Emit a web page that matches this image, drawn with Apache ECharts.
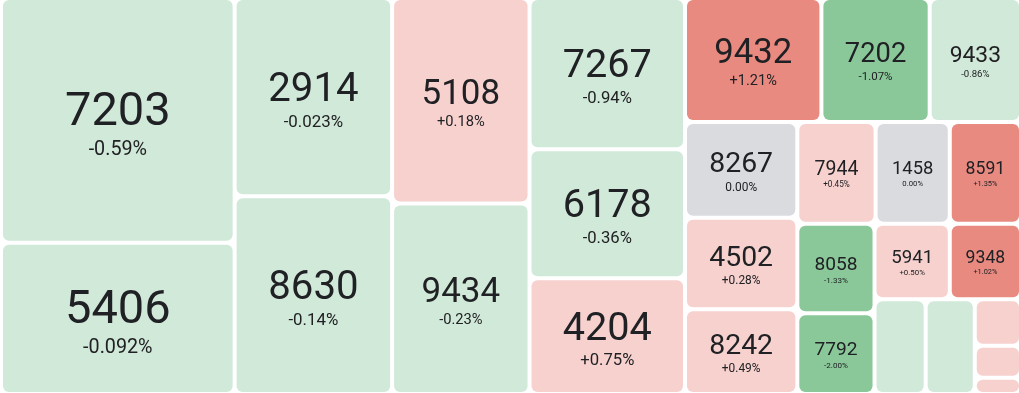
<!DOCTYPE html>
<html>
<head>
<meta charset="utf-8">
<script src="https://cdn.jsdelivr.net/npm/echarts@6/dist/echarts.min.js"></script>
<style>
html,body{margin:0;padding:0;background:#fff;}
#c{width:1019px;height:393px;}
</style>
</head>
<body>
<div id="c"></div>
<script>
// Tile names (stock codes); unnamed small tiles carry no label in the reference
const codes = ['7203','5406','2914','8630','5108','9434','7267','6178','4204','9432','7202','9433',
  '8267','4502','8242','7944','1458','8591','8058','7792','5941','9348','','','','',''];
// Tile weights (read from tile areas)
const weights = [56600,34950,30900,30800,27950,25900,23250,19850,17800,16730,13280,11200,
  10640,10190,9410,7880,7470,7170,6850,6160,5630,5330,4790,4600,2120,1470,740];
// Daily change in percent (small unnamed tiles: estimated from colour only)
const changes = [-0.59,-0.092,-0.023,-0.14,0.18,-0.23,-0.94,-0.36,0.75,1.21,-1.07,-0.86,
  0.00,0.28,0.49,0.45,0.00,1.35,-1.33,-2.00,0.50,1.02,-0.5,-0.5,0.5,0.5,0.5];

const GREEN1 = '#d1e9d8', GREEN2 = '#8ac899', RED1 = '#f6d1ce', RED2 = '#e98a81', GRAY = '#dadbdf';
const TEXT = '#202124';
const FONT = 'Roboto';

function colorFor(v) {
  if (v === 0) return GRAY;
  if (v > 0) return v >= 1 ? RED2 : RED1;
  return v <= -1 ? GREEN2 : GREEN1;
}
function fmtChange(v) {
  if (v === 0) return '0.00%';
  const s = Math.abs(v) < 0.1 ? v.toPrecision(2) : v.toFixed(2);
  return (v > 0 ? '+' : '') + s + '%';
}

function buildData(layouts) {
  return codes.map((c, i) => {
    const item = { name: c, value: weights[i], change: changes[i], itemStyle: { color: colorFor(changes[i]) } };
    if (layouts) {
      const l = layouts[i] || { width: 0, height: 0 };
      const w = l.width, h = l.height;
      const f = Math.min(0.262 * w, 47);
      const pf = f * 0.42;
      const blockH = f * 1.05 + pf * 1.25;
      const padTop = Math.max(0, (h - blockH) / 2 + 0.1 * f);
      item.label = {
        show: !!c && w >= 50,
        padding: [padTop, 0, 0, 0],
        rich: {
          c: { fontSize: f, lineHeight: f * 1.05, fontFamily: FONT, color: TEXT, align: 'center' },
          p: { fontSize: pf, lineHeight: pf * 1.25, fontFamily: FONT, color: TEXT, align: 'center' }
        }
      };
    } else {
      item.label = { show: false };
    }
    return item;
  });
}

const chart = echarts.init(document.getElementById('c'), null, { renderer: 'canvas' });
function makeOption(data) {
  return {
    animation: false,
    series: [{
      type: 'treemap',
      left: 3, top: 0, width: 1016, height: 392,
      roam: false,
      nodeClick: false,
      breadcrumb: { show: false },
      sort: 'desc',
      squareRatio: 1,
      levels: [{ itemStyle: { gapWidth: 4, borderWidth: 0, borderColor: '#fff' } }],
      itemStyle: { borderRadius: 6, borderWidth: 0, borderColor: '#fff' },
      emphasis: { disabled: true },
      label: {
        show: true,
        position: 'inside',
        padding: 0,
        color: TEXT,
        fontFamily: FONT,
        overflow: 'none',
        formatter: p => '{c|' + p.name + '}\n{p|' + fmtChange(p.data.change) + '}'
      },
      upperLabel: { show: false },
      data: data
    }]
  };
}
chart.setOption(makeOption(buildData(null)));

// read the tile sizes the library computed, then size labels to fit them
let layouts = [];
try {
  const sm = (chart.getModel ? chart.getModel() : chart._model).getSeriesByIndex(0);
  const d = sm.getData();
  for (let i = 1; i < d.count(); i++) layouts[i - 1] = d.getItemLayout(i);
} catch (e) { layouts = codes.map(() => ({ width: 100, height: 100 })); }
chart.setOption(makeOption(buildData(layouts)));
</script>
</body>
</html>
